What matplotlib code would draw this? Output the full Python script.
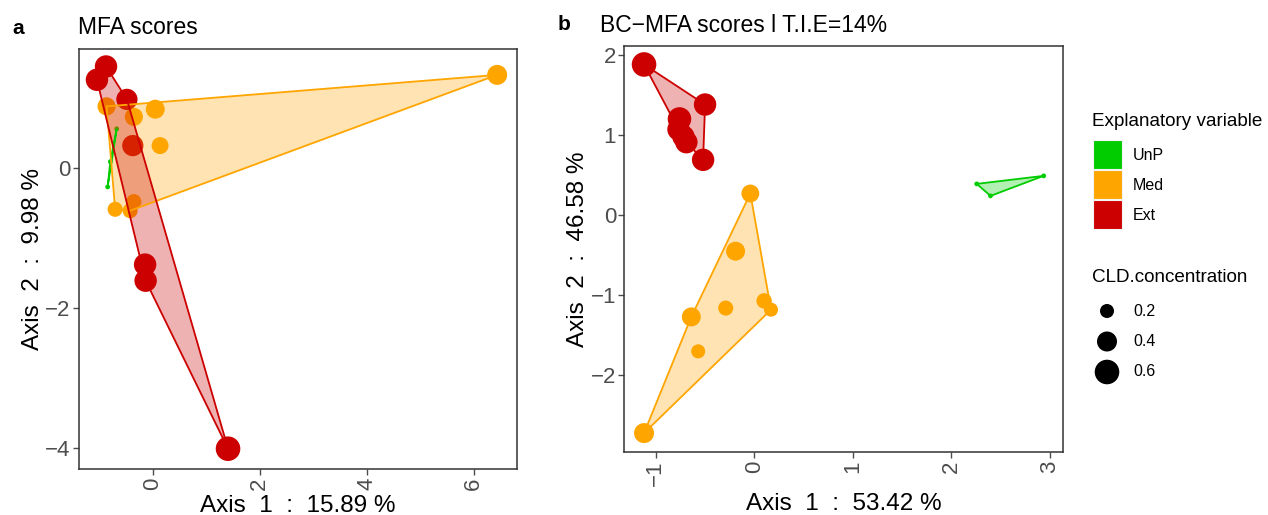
import matplotlib
matplotlib.use("Agg")
import matplotlib.pyplot as plt
from matplotlib.patches import Polygon, Rectangle
import numpy as np

plt.rcParams['font.family'] = ['Liberation Sans', 'DejaVu Sans']

groups = ["UnP", "Med", "Ext"]
colors = {"UnP": "#00CC00", "Med": "#FFA500", "Ext": "#CC0000"}

# panel a : MFA scores
mfa_x = {
    "UnP": [-0.67, -0.79, -0.84],
    "Med": [-0.86, -0.35, 0.05, 0.14, -0.70, -0.42, -0.35, 6.44],
    "Ext": [-0.87, -1.04, -0.48, -0.37, -0.14, -0.13, 1.41],
}
mfa_y = {
    "UnP": [0.56, 0.09, -0.27],
    "Med": [0.88, 0.73, 0.84, 0.32, -0.59, -0.61, -0.48, 1.33],
    "Ext": [1.45, 1.26, 0.98, 0.32, -1.38, -1.61, -4.01],
}
mfa_conc = {
    "UnP": [0.03, 0.03, 0.03],
    "Med": [0.33, 0.33, 0.36, 0.29, 0.23, 0.23, 0.23, 0.40],
    "Ext": [0.50, 0.50, 0.45, 0.45, 0.50, 0.50, 0.60],
}

# panel b : BC-MFA scores
bc_x = {
    "UnP": [2.26, 2.40, 2.94],
    "Med": [-0.04, -0.19, 0.10, 0.17, -0.29, -0.64, -0.57, -1.12],
    "Ext": [-1.12, -0.50, -0.76, -0.77, -0.72, -0.69, -0.52],
}
bc_y = {
    "UnP": [0.39, 0.24, 0.49],
    "Med": [0.27, -0.45, -1.07, -1.18, -1.16, -1.27, -1.70, -2.72],
    "Ext": [1.88, 1.38, 1.20, 1.07, 0.98, 0.91, 0.69],
}
bc_conc = {
    "UnP": [0.03, 0.03, 0.03],
    "Med": [0.32, 0.36, 0.24, 0.20, 0.23, 0.36, 0.20, 0.40],
    "Ext": [0.60, 0.50, 0.55, 0.50, 0.50, 0.50, 0.50],
}

legend_sizes = [0.2, 0.4, 0.6]


def size_of(conc):
    """map concentration to marker area (points^2)"""
    return np.clip(528.8 * np.asarray(conc) - 4.1, 8, None)


def hull(x, y):
    """convex hull with monotone chain"""
    pts = sorted(set(zip(x, y)))

    def cross(o, a, b):
        return (a[0] - o[0]) * (b[1] - o[1]) - (a[1] - o[1]) * (b[0] - o[0])
    lower, upper = [], []
    for p in pts:
        while len(lower) >= 2 and cross(lower[-2], lower[-1], p) <= 0:
            lower.pop()
        lower.append(p)
    for p in reversed(pts):
        while len(upper) >= 2 and cross(upper[-2], upper[-1], p) <= 0:
            upper.pop()
        upper.append(p)
    return np.array(lower[:-1] + upper[:-1])


def draw_panel(ax, xs, ys, conc, xlim, ylim, xticks, yticks, xlabel, ylabel,
               xpad):
    for g in groups:
        ax.scatter(xs[g], ys[g], s=size_of(conc[g]), color=colors[g],
                   edgecolor='none', zorder=2)
    for g in groups:
        h = hull(xs[g], ys[g])
        ax.add_patch(Polygon(h, closed=True, facecolor=colors[g], alpha=0.3,
                             edgecolor='none', zorder=3))
        ax.add_patch(Polygon(h, closed=True, facecolor='none',
                             edgecolor=colors[g], lw=1.3, zorder=4))
    ax.set_xlim(*xlim)
    ax.set_ylim(*ylim)
    ax.set_xticks(xticks)
    ax.set_yticks(yticks)
    ax.set_xticklabels([str(t).replace('-', '\u2212') for t in xticks],
                       rotation=90)
    ax.set_yticklabels([str(t).replace('-', '\u2212') for t in yticks])
    ax.tick_params(labelsize=16, colors='#4D4D4D', length=4, width=1, pad=2)
    for s in ax.spines.values():
        s.set_color('#333333')
        s.set_linewidth(1.1)
    ax.set_xlabel(xlabel, fontsize=17.5, labelpad=xpad)
    ax.set_ylabel(ylabel, fontsize=17.5, labelpad=1)


fig = plt.figure(figsize=(12.68, 5.15), dpi=100)

ax1 = fig.add_axes([0.0621, 0.0893, 0.3456, 0.8156])
draw_panel(ax1, mfa_x, mfa_y, mfa_conc, (-1.38, 6.81), (-4.30, 1.70),
           [0, 2, 4, 6], [-4, -2, 0],
           "Axis  1  :  15.89 %", "Axis  2  :  9.98 %", 4)

ax2 = fig.add_axes([0.4924, 0.1217, 0.3462, 0.7889])
draw_panel(ax2, bc_x, bc_y, bc_conc, (-1.32, 3.14), (-2.96, 2.11),
           [-1, 0, 1, 2, 3], [-2, -1, 0, 1, 2],
           "Axis  1  :  53.42 %", "Axis  2  :  46.58 %", 5)

fig.text(12 / 1268, 1 - 28 / 515, "a", fontsize=15, fontweight='bold',
         va='center')
fig.text(78 / 1268, 1 - 27 / 515, "MFA scores", fontsize=16.5, va='center')
fig.text(558 / 1268, 1 - 25 / 515, "b", fontsize=15, fontweight='bold',
         va='center')
fig.text(600 / 1268, 1 - 25 / 515, "BC\u2212MFA scores l T.I.E=14%",
         fontsize=16.5, va='center')

# legend drawn in pixel coordinates
lg = fig.add_axes([0, 0, 1, 1], facecolor='none')
lg.set_xlim(0, 1268)
lg.set_ylim(515, 0)
lg.axis('off')
lg.text(1092, 122, "Explanatory variable", fontsize=13.6, va='center')
for i, g in enumerate(groups):
    y0 = 140 + 30 * i
    lg.add_patch(Rectangle((1093, y0), 29, 29, facecolor=colors[g],
                           edgecolor='#F4F4F4', lw=0.8))
    lg.text(1133, y0 + 15, g, fontsize=11.5, va='center')
lg.text(1092, 278, "CLD.concentration", fontsize=13.6, va='center')
for i, v in enumerate(legend_sizes):
    yy = 311 + 30.5 * i
    lg.scatter([1107], [yy], s=size_of(v), color='black', edgecolor='none')
    lg.text(1133, yy, str(v), fontsize=11.5, va='center')

fig.savefig("out.png", dpi=100)
